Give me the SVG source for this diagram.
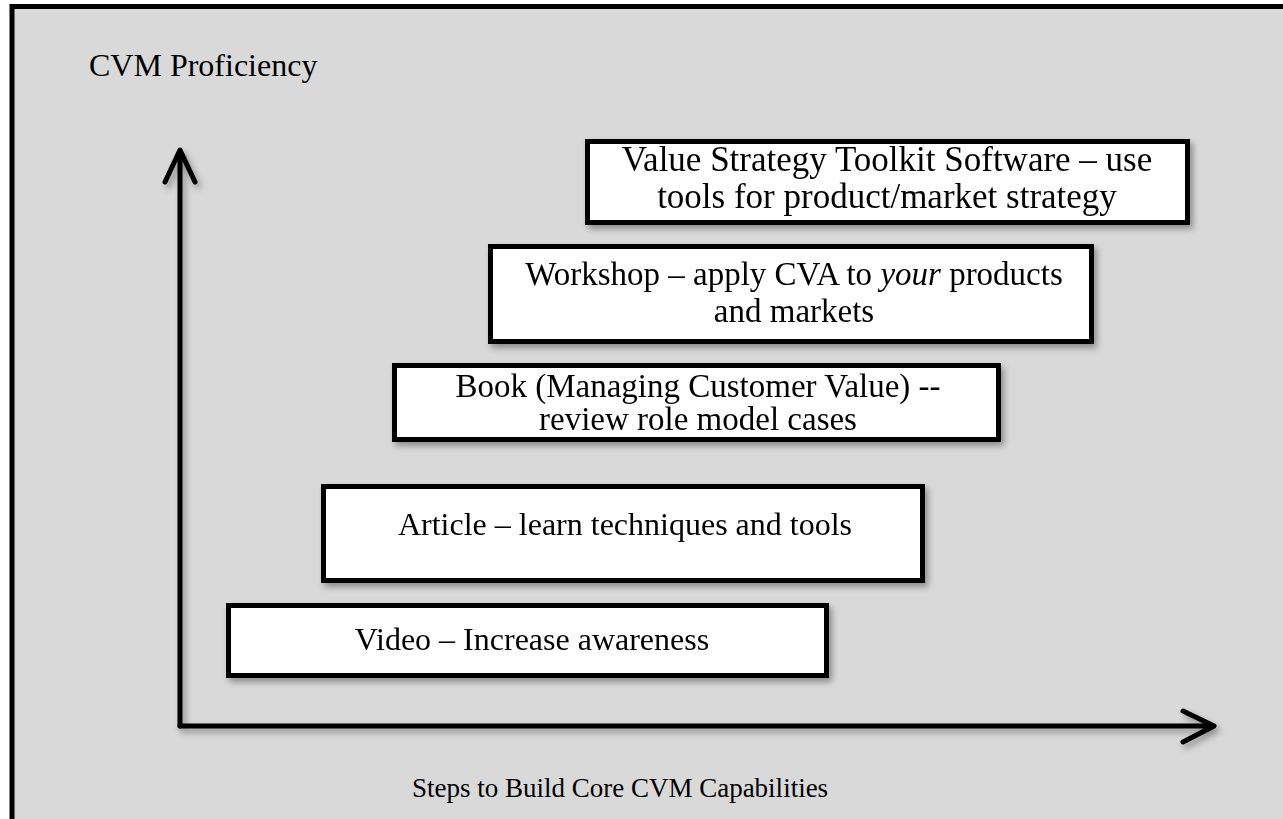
<svg xmlns="http://www.w3.org/2000/svg" width="1283" height="819" viewBox="0 0 1283 819">
<defs>
<filter id="sh" x="-10%" y="-10%" width="130%" height="140%">
<feDropShadow dx="3" dy="4" stdDeviation="3" flood-color="#000" flood-opacity="0.35"/>
</filter>
</defs>
<style>
.t{font-family:"Liberation Serif","Times New Roman",serif;font-size:32px;fill:#000}
.c{text-anchor:middle}
.box{fill:#fff;stroke:#000;stroke-width:5}
.ax{fill:none;stroke:#000;stroke-width:5;stroke-linecap:round;stroke-linejoin:round}
</style>
<rect x="12" y="6.5" width="1280" height="830" fill="#d9d9d9" stroke="#000" stroke-width="5"/>
<text class="t" x="89" y="76">CVM Proficiency</text>
<g id="connectors" filter="url(#sh)">
<path class="ax" d="M180,726 V152 M165,182 L180,150 L195,182"/>
<path class="ax" d="M180,726 H1213 M1183,711 L1214,726 L1183,742"/>
</g>
<g id="n5" filter="url(#sh)">
<rect class="box" x="228.5" y="605.5" width="598" height="70"/>
<text class="t c" x="532" y="650">Video – Increase awareness</text>
</g>
<g id="n4" filter="url(#sh)">
<rect class="box" x="323.5" y="486.5" width="599" height="94"/>
<text class="t c" x="625" y="535">Article – learn techniques and tools</text>
</g>
<g id="n3" filter="url(#sh)">
<rect class="box" x="394.5" y="365.5" width="604" height="74"/>
<text class="t c" x="698" y="397" style="font-size:33px">Book (Managing Customer Value) --</text>
<text class="t c" x="698" y="430" style="font-size:33px">review role model cases</text>
</g>
<g id="n2" filter="url(#sh)">
<rect class="box" x="490.5" y="246.5" width="601" height="95"/>
<text class="t c" x="794" y="285" style="font-size:33px">Workshop – apply CVA to <tspan font-style="italic">your</tspan> products</text>
<text class="t c" x="794" y="322" style="font-size:33px">and markets</text>
</g>
<g id="n1" filter="url(#sh)">
<rect class="box" x="587.5" y="141.5" width="600" height="81"/>
<text class="t c" x="887" y="171" style="font-size:35px">Value Strategy Toolkit Software – use</text>
<text class="t c" x="887" y="208" style="font-size:35px">tools for product/market strategy</text>
</g>
<text class="t c" x="620" y="797" style="font-size:27px">Steps to Build Core CVM Capabilities</text>
</svg>
